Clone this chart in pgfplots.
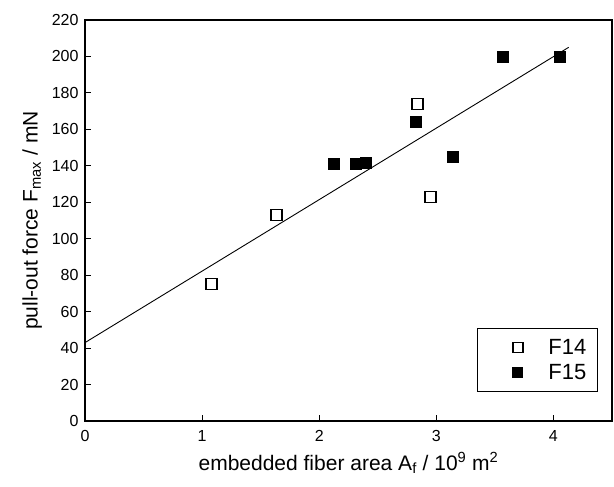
\documentclass[border=0pt]{standalone}
\usepackage{fontspec}
\setmainfont{Liberation Sans}
\usepackage{pgfplots}
\pgfplotsset{compat=1.18}
\begin{document}
\begin{tikzpicture}
\useasboundingbox (0pt,0pt) rectangle (614pt,487pt);
\begin{axis}[
  at={(85pt,66pt)}, anchor=south west,
  width=527pt, height=401pt, scale only axis,
  xmin=0, xmax=4.5, ymin=0, ymax=220,
  xtick={0,1,2,3,4}, ytick={0,20,...,220},
  tick align=inside, tick pos=left,
  major tick length=6pt,
  axis line style={line width=1.2pt},
  tick style={line width=1pt, black},
  ticklabel style={font=\fontsize{16}{18}\selectfont},
  xticklabel style={yshift=-6pt},
  yticklabel style={xshift=-3pt},
  /pgf/number format/assume math mode=true,
  xlabel={embedded fiber area A\textsubscript{f} / 10\textsuperscript{9} m\textsuperscript{2}},
  ylabel={pull-out force F\textsubscript{max} / mN},
  label style={font=\fontsize{21}{23}\selectfont},
  xlabel style={at={(axis description cs:0.5,-0.105)}, anchor=center},
  ylabel style={at={(axis description cs:-0.1,0.5)}, anchor=center},
  legend style={draw=black, line width=1pt, font=\fontsize{22}{24}\selectfont,
    at={(0.973,0.072)}, anchor=south east, inner xsep=9pt, inner ysep=9pt,
    row sep=4pt, cells={anchor=west}},
  legend cell align=left,
  legend image code/.code={\path (0pt,0pt) (59pt,0pt); \draw[mark size=5pt,#1] plot coordinates {(31pt,0pt)};},
]
\addplot[black, line width=0.9pt, forget plot] coordinates {(0,43) (4.13,205)};
\addplot[only marks, mark=square, mark size=5.5pt, mark options={draw=black, fill=white, line width=1.3pt}]
  coordinates {(1.08,75.1) (1.636,112.9) (2.84,173.8) (2.95,122.9)};
\addlegendentry{F14}
\addplot[only marks, mark=square*, mark size=5.5pt, mark options={draw=black, fill=black, line width=1pt}]
  coordinates {(2.13,140.9) (2.31,141) (2.40,141.8) (2.83,163.8) (3.14,144.7) (3.57,199.6) (4.06,199.6)};
\addlegendentry{F15}
\end{axis}
\end{tikzpicture}
\end{document}
